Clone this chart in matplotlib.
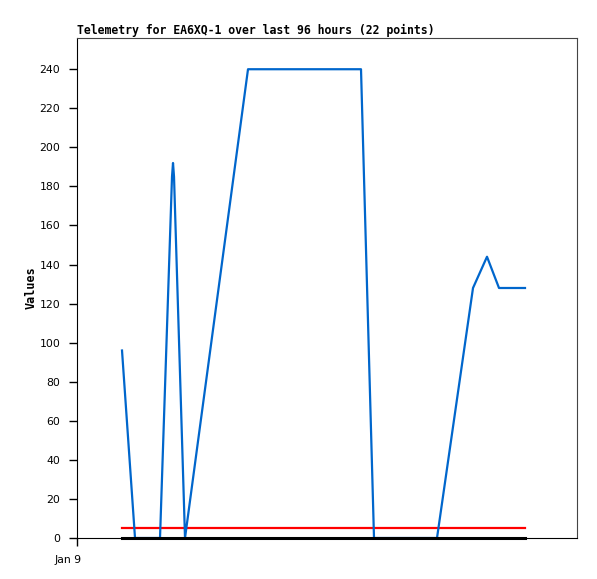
import numpy as np
import matplotlib.pyplot as plt
from matplotlib.transforms import ScaledTranslation

# ===== 資料 (hours since Jan 9 00:00) =====
hours = [9.0, 11.6, 16.6, 19.0, 19.2, 19.4, 21.6, 34.2, 56.8, 59.4, 72.0, 79.2, 82.0, 84.4, 89.6]
values = [96, 0, 0, 185, 192, 185, 0, 240, 240, 0, 0, 128, 144, 128, 128]

limit_hi = 5
limit_lo = 0
x_ticks = [0]
x_tick_labels = ["Jan 9"]
y_ticks = list(range(0, 241, 20))

TITLE = "Telemetry for EA6XQ-1 over last 96 hours (22 points)"

# =========================================================

fig = plt.figure(figsize=(5.97, 5.79), dpi=100)
ax = fig.add_axes([0.129, 0.0708, 0.8375, 0.8636])

span = [hours[0], hours[-1]]

ax.plot(span, [limit_hi, limit_hi], color="#ff0000", linewidth=1.6, zorder=3)
ax.plot(hours, values, color="#0066cc", linewidth=1.6, zorder=4)
ax.plot(span, [limit_lo, limit_lo], color="black", linewidth=2.2, zorder=5, clip_on=False)

ax.set_xlim(0, 100)
ax.set_ylim(0, 256)

ax.set_yticks(y_ticks)
ax.set_xticks(x_ticks)
ax.set_xticklabels(x_tick_labels)
ax.tick_params(axis="both", direction="out", length=6, width=1, labelsize=7.8, pad=6)
for lbl in ax.get_xticklabels():
    lbl.set_transform(lbl.get_transform() + ScaledTranslation(-0.09, 0, fig.dpi_scale_trans))

for s in ["left", "bottom"]:
    ax.spines[s].set_color("black")
for s in ["top", "right"]:
    ax.spines[s].set_color("#444444")

ax.set_ylabel("Values", family="DejaVu Sans Mono", fontweight="bold", fontsize=8.5, labelpad=1)
ax.set_title(TITLE, loc="left", family="DejaVu Sans Mono", fontweight="bold", fontsize=8.3, pad=3)

fig.savefig("out.png", dpi=100)
